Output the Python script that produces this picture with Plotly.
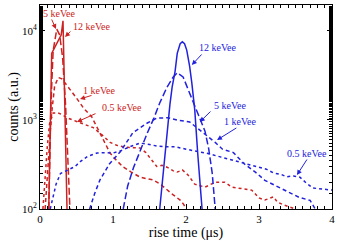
import numpy as np
import plotly.graph_objects as go

RED = "#cc2222"
BLUE = "#2222dd"

# ---- data (rise time in us, counts a.u.) ----
red12_x = [0.12, 0.14, 0.16, 0.20, 0.25, 0.29, 0.315, 0.33, 0.35, 0.37]
red12_y = [100, 1000, 5600, 6500, 7800, 9000, 13000, 4000, 600, 100]

red5_x = [0.12, 0.15, 0.18, 0.23, 0.27, 0.31, 0.35, 0.38, 0.41]
red5_y = [100, 1500, 6000, 10500, 9000, 5000, 1500, 400, 100]

red1_x = [0.07, 0.10, 0.13, 0.16, 0.20, 0.25, 0.30, 0.38, 0.45, 0.52, 0.60, 0.71, 0.82,
          0.96, 1.05, 1.14, 1.25, 1.37, 1.45, 1.55, 1.65, 1.74, 1.82, 1.92, 1.97, 2.00]
red1_y = [100, 250, 500, 1200, 2400, 3000, 2900, 2340, 2000, 1670, 1350, 1080, 710,
          425, 350, 296, 260, 228, 220, 212, 190, 163, 145, 126, 112, 100]

red05_x = [0.04, 0.07, 0.10, 0.13, 0.18, 0.25, 0.30, 0.38, 0.45, 0.52, 0.60, 0.73, 0.85,
           0.96, 1.05, 1.14, 1.25, 1.37, 1.45, 1.50, 1.60, 1.67, 1.74, 1.82, 1.88, 1.95,
           2.03, 2.12, 2.26, 2.40, 2.53, 2.63, 2.77, 2.90, 3.00, 3.08, 3.20, 3.25, 3.34,
           3.43, 3.50]
red05_y = [100, 250, 500, 900, 1200, 1200, 1150, 1050, 1000, 950, 900, 820, 680,
           560, 520, 500, 490, 485, 430, 385, 300, 310, 295, 270, 260, 275,
           240, 190, 176, 200, 200, 176, 170, 163, 133, 126, 137, 120, 111,
           105, 100]

blue12_x = [1.64, 1.69, 1.74, 1.78, 1.81, 1.85, 1.88, 1.92, 1.95, 1.98, 2.01, 2.05,
            2.08, 2.12, 2.16, 2.19, 2.22]
blue12_y = [100, 275, 770, 1500, 2340, 3500, 5600, 7200, 7550, 7200, 6100, 4000,
            2600, 1300, 425, 220, 100]

blue5_x = [1.14, 1.20, 1.28, 1.38, 1.47, 1.56, 1.64, 1.74, 1.82, 1.88, 1.96, 2.05,
           2.12, 2.19, 2.26, 2.31, 2.36, 2.40]
blue5_y = [100, 180, 290, 480, 715, 1050, 1550, 2340, 3000, 3400, 3050, 2000,
           1450, 1080, 750, 480, 250, 100]

blue1_x = [0.68, 0.75, 0.82, 0.95, 1.10, 1.27, 1.47, 1.60, 1.75, 1.88, 2.05, 2.19,
           2.30, 2.40, 2.50, 2.65, 2.80, 2.95, 3.08, 3.22, 3.40, 3.55, 3.70, 3.77]
blue1_y = [100, 150, 211, 320, 440, 715, 925, 1050, 1060, 1000, 950, 770,
           650, 560, 470, 430, 320, 260, 210, 185, 155, 135, 125, 100]

blue05_x = [0.14, 0.18, 0.22, 0.28, 0.32, 0.41, 0.48, 0.55, 0.65, 0.78, 0.90, 1.00,
            1.10, 1.23, 1.37, 1.50, 1.60, 1.74, 1.85, 2.00, 2.19, 2.30, 2.47, 2.60,
            2.74, 2.90, 3.00, 3.10, 3.20, 3.30, 3.38, 3.47, 3.56, 3.65, 3.74, 3.85,
            3.93, 4.00]
blue05_y = [100, 140, 190, 250, 260, 280, 300, 340, 390, 425, 430, 425,
            450, 500, 550, 530, 510, 500, 500, 470, 437, 420, 385, 360,
            337, 310, 296, 280, 254, 245, 230, 235, 228, 195, 172, 168,
            165, 163]

x_ticks = [0, 1, 2, 3, 4]
y_ticks = [100, 1000, 10000]
y_ticktext = ["10<sup>2</sup>", "10<sup>3</sup>", "10<sup>4</sup>"]

FONT = "Liberation Serif"

fig = go.Figure()

def add(x, y, color, dash):
    fig.add_trace(go.Scatter(x=x, y=y, mode="lines",
                             line=dict(color=color, width=1.5, dash=dash),
                             showlegend=False, hoverinfo="skip"))

add(red05_x, red05_y, RED, "dot")
add(red1_x, red1_y, RED, "4px,3px")
add(red5_x, red5_y, RED, "7px,3px")
add(red12_x, red12_y, RED, "solid")
add(blue05_x, blue05_y, BLUE, "dot")
add(blue1_x, blue1_y, BLUE, "4px,3px")
add(blue5_x, blue5_y, BLUE, "7px,3px")
add(blue12_x, blue12_y, BLUE, "solid")

# annotations: (text, text_x, text_logy, tail_x, tail_logy, head_x, head_logy, color)
labels = [
    ("5 keVee", 0.26, 4.202, 0.151, 4.146, 0.219, 4.022, RED),
    ("12 keVee", 0.71, 4.045, 0.438, 4.011, 0.342, 3.933, RED),
    ("1 keVee", 0.81, 3.326, 0.726, 3.281, 0.548, 3.236, RED),
    ("0.5 keVee", 1.12, 3.14, 0.781, 3.079, 0.507, 2.978, RED),
    ("12 keVee", 2.425, 3.82, 2.233, 3.753, 2.08, 3.618, BLUE),
    ("5 keVee", 2.60, 3.16, 2.356, 3.112, 2.19, 2.978, BLUE),
    ("1 keVee", 2.74, 2.98, 2.71, 2.921, 2.425, 2.775, BLUE),
    ("0.5 keVee", 3.66, 2.618, 3.67, 2.573, 3.52, 2.382, BLUE),
]
for text, tx, ty, ax, ay, hx, hy, c in labels:
    fig.add_annotation(x=tx, y=ty, xref="x", yref="y", text=text, showarrow=False,
                       font=dict(family=FONT, size=10, color=c))
    fig.add_annotation(x=hx, y=hy, ax=ax, ay=ay, xref="x", yref="y",
                       axref="x", ayref="y", text="", showarrow=True,
                       arrowhead=2, arrowsize=1, arrowwidth=1, arrowcolor=c)

axis_common = dict(showgrid=False, zeroline=False, showline=True, linecolor="black",
                   linewidth=1, mirror="allticks", ticks="inside", tickcolor="black",
                   automargin=False,
                   tickfont=dict(family=FONT, size=11, color="black"))

fig.update_xaxes(range=[0, 4], tickvals=x_ticks, ticklen=5,
                 title=dict(text="rise time (μs)", font=dict(family=FONT, size=14, color="black"),
                            standoff=0),
                 minor=dict(dtick=0.1, ticks="inside", ticklen=3, tickcolor="black"),
                 **axis_common)
fig.update_yaxes(type="log", range=[2, 4.292], tickvals=y_ticks, ticktext=y_ticktext,
                 ticklen=5,
                 title=dict(text="counts (a.u.)", font=dict(family=FONT, size=14, color="black"),
                            standoff=0),
                 minor=dict(ticks="inside", ticklen=3, tickcolor="black"),
                 **axis_common)

fig.update_layout(width=349, height=245, margin=dict(l=40, r=17, t=5, b=36),
                  plot_bgcolor="white", paper_bgcolor="white",
                  font=dict(family=FONT))

fig.write_html("out.html", config={"displayModeBar": False},
               post_script="document.body.style.margin='0';document.body.style.padding='0';")
